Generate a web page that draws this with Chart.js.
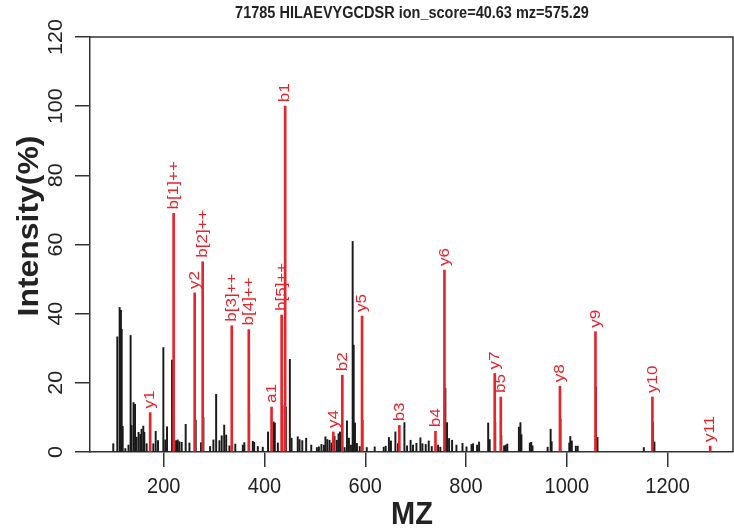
<!DOCTYPE html>
<html>
<head>
<meta charset="utf-8">
<script src="https://cdn.jsdelivr.net/npm/chart.js@4.4.1/dist/chart.umd.min.js"></script>
<style>
  html, body { margin: 0; padding: 0; background: #fff; }
</style>
</head>
<body>
<canvas id="spec" width="734" height="529"></canvas>
<script>
// Spectrum annotation chart

const titleText = "71785 HILAEVYGCDSR ion_score=40.63 mz=575.29";
const xTicks = [200, 400, 600, 800, 1000, 1200];
const yTicks = [0, 20, 40, 60, 80, 100, 120];

// matched ions (red)
const ionLabels = ["y1", "b[1]++", "y2", "b[2]++", "b[3]++", "b[4]++", "a1", "b[5]++", "b1", "y4", "b2",
    "y5", "b3", "b4", "y6", "y7", "b5", "y8", "y9", "y10", "y11"];
const ionMz = [173, 219.6, 261.4, 277.3, 335, 368.8, 414, 434, 441, 536.6, 554.5,
    593.6, 667.7, 739.4, 757.2, 857, 869, 986.5, 1057, 1170, 1284.7];
const ionInt = [11.4, 69, 46, 55, 36.5, 35.4, 13, 39.6, 100, 5.8, 22.2,
    39.3, 7.7, 6, 52.6, 22.7, 15.9, 19, 34.8, 15.9, 1.7];

// all other peaks (black)
const peakMz = [99.8, 107.8, 112.4, 115, 116.5, 118.5, 123.7, 130, 134.2, 136, 140, 143, 146, 150, 153.5,
    156, 159.4, 161.4, 166, 179.3, 184, 188.6, 199.2, 203, 206.5, 216.5, 224.5, 227.7, 231, 235.6,
    243.5, 251, 263.4, 274, 278.7, 292, 298.6, 304, 310.5, 315, 320, 324, 330.4, 342, 357,
    360, 369.5, 376.7, 379.5, 386.7, 396.6, 407, 418, 420.5, 426.5, 435.5, 442.5, 450.3, 453.7, 466,
    469.6, 475, 482.7, 492.8, 504, 508, 513, 518, 521, 524.6, 529, 533, 539, 543.7, 547,
    550, 559, 563.7, 567.6, 571.6, 575, 577, 579.6, 583.5, 589, 594.5, 603, 618.7, 636.6, 640.6,
    647, 651, 659.8, 665, 677.7, 683, 690, 694.8, 701.6, 709.5, 713.5, 720, 726, 732, 744.6,
    749, 759, 762.4, 766.4, 772.4, 781, 793, 801, 811, 814, 822, 826, 844, 847, 858,
    870, 875.7, 879, 882, 905, 908, 910, 926.7, 929.4, 932, 962, 968, 970, 987.5, 1005,
    1007, 1010, 1018, 1021.7, 1058, 1061, 1153, 1171, 1174];
const peakInt = [2.4, 33.3, 41.8, 41, 35.5, 7.4, 1, 2, 33.7, 7.7, 14.3, 13.8, 4.3, 5.7, 5.1,
    6.6, 7.5, 5.7, 2.4, 2.4, 6, 3.3, 30.2, 3.5, 7.3, 26.6, 3.3, 3.5, 3, 2.8,
    8, 2.6, 9.2, 2.7, 10, 1.6, 3.5, 16.7, 3.3, 4.7, 7.8, 4.9, 1.8, 2.3, 2,
    2.7, 11, 3.1, 2.8, 1.6, 1.4, 5.8, 8.7, 8.4, 2.6, 13.5, 13, 26.8, 4, 4.4,
    3.6, 3.3, 4, 2, 1.3, 1.5, 2.2, 2, 4.4, 3.6, 3.4, 2.6, 4.5, 3.4, 5.3,
    5.8, 1.3, 9, 4, 2, 60.9, 30.9, 8.4, 2.5, 1.6, 9.2, 1.3, 1.5, 1.4, 1.7,
    4.2, 3.2, 5.8, 2.4, 8.5, 1.8, 3.4, 2, 2.5, 4.1, 2.4, 2.2, 3.2, 1.6, 2,
    1.4, 18.5, 8.5, 3.9, 3.4, 2, 2.5, 1.5, 2.2, 2.4, 2, 2.9, 8.4, 3.6, 8.5,
    4.8, 1.8, 2, 2.3, 7.2, 8.5, 5, 2.6, 2.8, 1.8, 1.4, 6.6, 3, 9.6, 2.6,
    4.5, 3.2, 1.7, 1.7, 18.8, 4.2, 1.3, 8.7, 2.9];

const RED = "#e8242b";
const INK = "#222";
const FONT = "'Liberation Sans', Arial, sans-serif";
const SY = 1.1; // text looks a bit stretched vertically

function drawText(ctx, text, x, y, font, color, align, rot) {
    ctx.save();
    ctx.translate(x, y);
    ctx.scale(1, SY);
    if (rot) ctx.rotate(rot);
    ctx.font = font;
    ctx.fillStyle = color;
    ctx.textAlign = align;
    ctx.textBaseline = "middle";
    ctx.fillText(text, 0, 0);
    ctx.restore();
}

const decor = {
    id: "decor",
    afterDraw(chart) {
        const ctx = chart.ctx;
        const a = chart.chartArea;
        const xs = chart.scales.x, ys = chart.scales.y;

        // rest of the box
        ctx.save();
        ctx.strokeStyle = "#333";
        ctx.lineWidth = 1.5;
        ctx.beginPath();
        ctx.moveTo(a.left, a.top);
        ctx.lineTo(a.right, a.top);
        ctx.lineTo(a.right, a.bottom);
        ctx.stroke();
        ctx.restore();

        const up = -Math.PI / 2;
        drawText(ctx, titleText, 412, 14, "bold 14.5px " + FONT, INK, "center", 0);
        yTicks.forEach(v => drawText(ctx, String(v), 57, ys.getPixelForValue(v), "19.5px " + FONT, INK, "center", up));
        xTicks.forEach(v => drawText(ctx, String(v), xs.getPixelForValue(v), 487, "20px " + FONT, INK, "center", 0));
        drawText(ctx, "Intensity(%)", 30, 226, "bold 29px " + FONT, INK, "center", up);
        drawText(ctx, "MZ", 412, 515, "bold 29px " + FONT, INK, "center", 0);

        // ion names above the red sticks
        const meta = chart.getDatasetMeta(0);
        meta.data.forEach((bar, i) => {
            drawText(ctx, ionLabels[i], bar.x, bar.y - 4, "15.5px " + FONT, RED, "left", up);
        });
    }
};

const axisGrid = { offset: false, drawOnChartArea: false, drawTicks: true, tickLength: 15, color: "#333", lineWidth: 1.5 };
const axisBorder = { display: true, color: "#333", width: 1.5 };

new Chart(document.getElementById("spec"), {
    type: "bar",
    data: {
        datasets: [
            {
                label: "ions",
                data: ionMz.map((m, i) => ({ x: m, y: ionInt[i] })),
                backgroundColor: RED,
                barThickness: 2,
                grouped: false,
                order: 0,
            },
            {
                label: "peaks",
                data: peakMz.map((m, i) => ({ x: m, y: peakInt[i] })),
                backgroundColor: "#1a1a1a",
                barThickness: 1.3,
                grouped: false,
                order: 1,
            },
        ],
    },
    options: {
        responsive: false,
        animation: false,
        devicePixelRatio: 1,
        layout: { padding: { top: 37, right: 1, left: 0, bottom: 0 } },
        plugins: {
            legend: { display: false },
            tooltip: { enabled: false },
            title: { display: false },
        },
        scales: {
            x: {
                type: "linear",
                min: 53.6,
                max: 1330,
                offset: false,
                grid: axisGrid,
                border: axisBorder,
                ticks: { display: false },
                afterBuildTicks: s => { s.ticks = xTicks.map(v => ({ value: v })); },
                afterFit: s => { s.height = 77; },
            },
            y: {
                min: 0,
                max: 120,
                grid: axisGrid,
                border: axisBorder,
                ticks: { display: false },
                afterBuildTicks: s => { s.ticks = yTicks.map(v => ({ value: v })); },
                afterFit: s => { s.width = 90; },
            },
        },
    },
    plugins: [decor],
});
</script>
</body>
</html>
